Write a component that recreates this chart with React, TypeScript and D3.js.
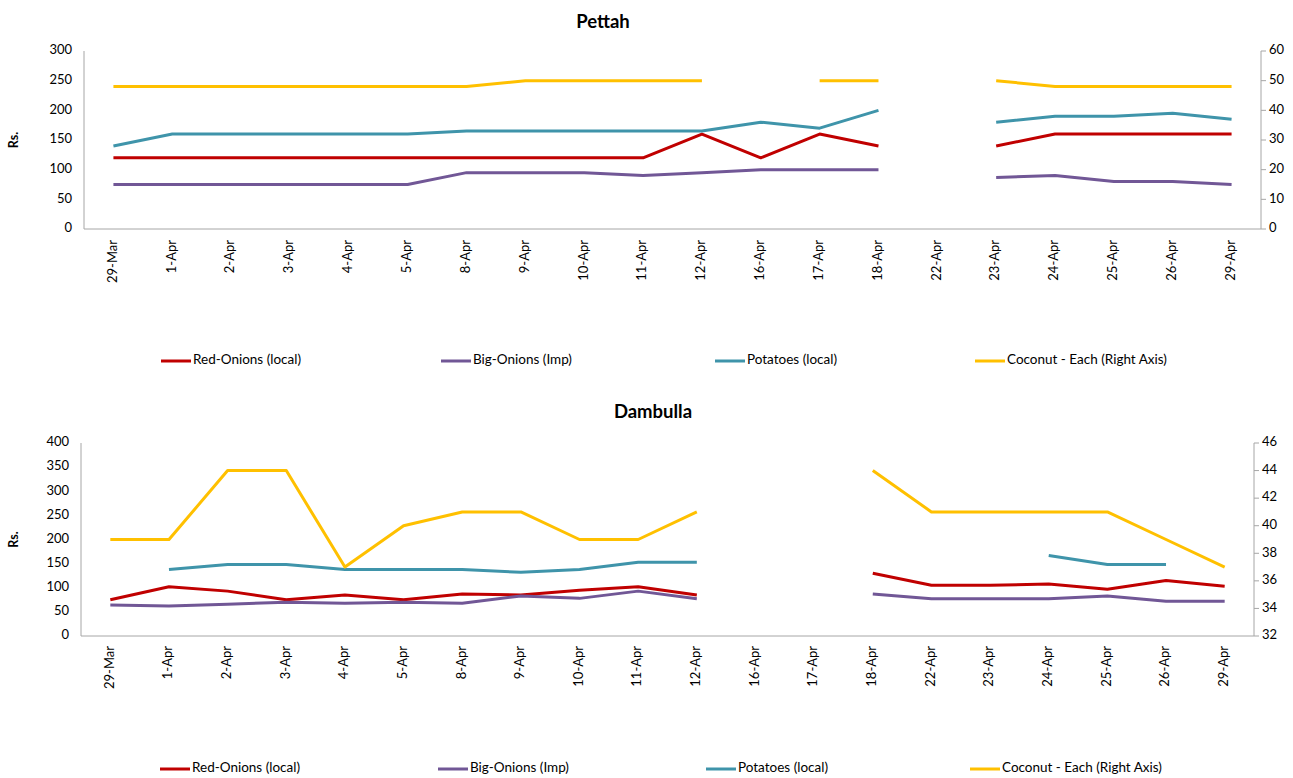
import React from "react";
import * as d3 from "d3";

const WIDTH = 1293;
const HEIGHT = 778;

const dates = [
  "29-Mar", "1-Apr", "2-Apr", "3-Apr", "4-Apr", "5-Apr", "8-Apr", "9-Apr", "10-Apr", "11-Apr",
  "12-Apr", "16-Apr", "17-Apr", "18-Apr", "22-Apr", "23-Apr", "24-Apr", "25-Apr", "26-Apr", "29-Apr",
];

// Pettah
const pettahRedOnions = [120, 120, 120, 120, 120, 120, 120, 120, 120, 120, 160, 120, 160, 140, null, 140, 160, 160, 160, 160];
const pettahBigOnions = [75, 75, 75, 75, 75, 75, 95, 95, 95, 90, 95, 100, 100, 100, null, 87, 90, 80, 80, 75];
const pettahPotatoes = [140, 160, 160, 160, 160, 160, 165, 165, 165, 165, 165, 180, 170, 200, null, 180, 190, 190, 195, 185];
const pettahCoconut = [48, 48, 48, 48, 48, 48, 48, 50, 50, 50, 50, null, 50, 50, null, 50, 48, 48, 48, 48];
const pettahLeftTicks = [0, 50, 100, 150, 200, 250, 300];
const pettahRightTicks = [0, 10, 20, 30, 40, 50, 60];

// Dambulla
const dambullaRedOnions = [75, 102, 93, 75, 85, 75, 87, 85, 95, 102, 85, null, null, 130, 105, 105, 108, 97, 115, 103];
const dambullaBigOnions = [64, 62, 66, 70, 68, 70, 68, 83, 78, 93, 77, null, null, 87, 77, 77, 77, 83, 72, 72];
const dambullaPotatoes = [null, 138, 148, 148, 138, 138, 138, 132, 138, 153, 153, null, null, null, null, null, 167, 148, 148, null];
const dambullaCoconut = [39, 39, 44, 44, 37, 40, 41, 41, 39, 39, 41, null, null, 44, 41, 41, 41, 41, 39, 37];
const dambullaLeftTicks = [0, 50, 100, 150, 200, 250, 300, 350, 400];
const dambullaRightTicks = [32, 34, 36, 38, 40, 42, 44, 46];

const seriesNames = ["Red-Onions (local)", "Big-Onions (Imp)", "Potatoes (local)", "Coconut - Each (Right Axis)"];
const seriesColors = ["#C00000", "#715796", "#3F94AA", "#FFC000"];

const FONT = "Lato, 'Liberation Sans', sans-serif";
const AXIS_COLOR = "#A6A6A6";

type Panel = {
  title: string;
  titleX: number;
  titleY: number;
  left: number;
  right: number;
  top: number;
  bottom: number;
  leftTicks: number[];
  rightTicks: number[];
  series: (number | null)[][];
  legendY: number;
  legendX: number[];
  labelOffset: number;
};

function ChartPanel({ p }: { p: Panel }) {
  const x = d3.scalePoint<string>().domain(dates).range([p.left, p.right]).padding(0.5);
  const yL = d3
    .scaleLinear()
    .domain([p.leftTicks[0], p.leftTicks[p.leftTicks.length - 1]])
    .range([p.bottom, p.top]);
  const yR = d3
    .scaleLinear()
    .domain([p.rightTicks[0], p.rightTicks[p.rightTicks.length - 1]])
    .range([p.bottom, p.top]);

  const lines = p.series.map((vals, i) => {
    const y = i === 3 ? yR : yL;
    const gen = d3
      .line<number | null>()
      .defined((d) => d != null)
      .x((_, j) => x(dates[j]) as number)
      .y((d) => y(d as number));
    return (
      <path
        key={i}
        d={gen(vals) || ""}
        fill="none"
        stroke={seriesColors[i]}
        strokeWidth={3}
        strokeLinejoin="round"
      />
    );
  });

  return (
    <g fontFamily={FONT}>
      <text x={p.titleX} y={p.titleY} textAnchor="middle" fontSize={18.5} fontWeight="bold" fill="#000">
        {p.title}
      </text>
      <text
        transform={`translate(18, ${(p.top + p.bottom) / 2}) rotate(-90)`}
        textAnchor="middle"
        fontSize={12.5}
        fontWeight="bold"
      >
        Rs.
      </text>

      {/* axes */}
      <line x1={p.left} x2={p.left} y1={p.top} y2={p.bottom} stroke={AXIS_COLOR} />
      <line x1={p.right} x2={p.right} y1={p.top} y2={p.bottom} stroke={AXIS_COLOR} />
      <line x1={p.left} x2={p.right} y1={p.bottom} y2={p.bottom} stroke={AXIS_COLOR} />

      {p.leftTicks.map((t) => (
        <text key={t} x={p.left - 12} y={yL(t)} textAnchor="end" dominantBaseline="middle" fontSize={13}>
          {t}
        </text>
      ))}
      {p.rightTicks.map((t) => (
        <g key={t}>
          <line x1={p.right} x2={p.right + 5} y1={yR(t)} y2={yR(t)} stroke={AXIS_COLOR} />
          <text x={p.right + 8} y={yR(t)} dominantBaseline="middle" fontSize={13}>
            {t}
          </text>
        </g>
      ))}
      {dates.map((d) => (
        <text
          key={d}
          transform={`translate(${x(d)}, ${p.bottom + p.labelOffset}) rotate(-90)`}
          textAnchor="end"
          dominantBaseline="middle"
          fontSize={13}
        >
          {d}
        </text>
      ))}

      {lines}

      {seriesNames.map((name, i) => (
        <g key={name}>
          <line
            x1={p.legendX[i]}
            x2={p.legendX[i] + 30}
            y1={p.legendY}
            y2={p.legendY}
            stroke={seriesColors[i]}
            strokeWidth={3}
          />
          <text x={p.legendX[i] + 32} y={p.legendY} dominantBaseline="middle" fontSize={13.5}>
            {name}
          </text>
        </g>
      ))}
    </g>
  );
}

const panels: Panel[] = [
  {
    title: "Pettah",
    titleX: 603,
    titleY: 28,
    left: 84,
    right: 1261,
    top: 51,
    bottom: 229,
    leftTicks: pettahLeftTicks,
    rightTicks: pettahRightTicks,
    series: [pettahRedOnions, pettahBigOnions, pettahPotatoes, pettahCoconut],
    legendY: 361,
    legendX: [161, 441, 715, 975],
    labelOffset: 11,
  },
  {
    title: "Dambulla",
    titleX: 653,
    titleY: 418,
    left: 81,
    right: 1254,
    top: 443,
    bottom: 636,
    leftTicks: dambullaLeftTicks,
    rightTicks: dambullaRightTicks,
    series: [dambullaRedOnions, dambullaBigOnions, dambullaPotatoes, dambullaCoconut],
    legendY: 769,
    legendX: [160, 438, 706, 970],
    labelOffset: 10,
  },
];

export default function App() {
  return (
    <svg
      width={WIDTH}
      height={HEIGHT}
      style={{ position: "absolute", left: 0, top: 0, background: "#fff" }}
    >
      {panels.map((p) => (
        <ChartPanel key={p.title} p={p} />
      ))}
    </svg>
  );
}
